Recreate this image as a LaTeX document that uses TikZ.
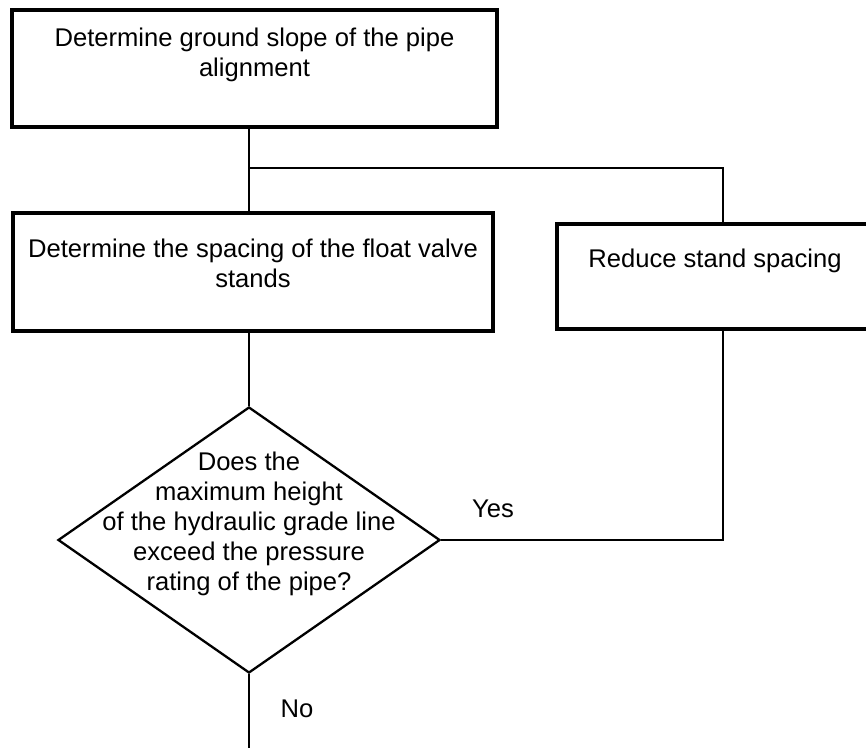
\documentclass[tikz,border=0pt]{standalone}
\usepackage{fontspec}
\setmainfont{Liberation Sans}
\usetikzlibrary{shapes.geometric}

\tikzset{
  stepbox/.style={draw, rectangle, line width=1.6pt, inner sep=0pt, align=center},
  decision/.style={draw, diamond, line width=1.15pt, inner sep=0pt,
    minimum width=191pt, minimum height=133pt},
  qtext/.style={align=center, inner sep=0pt, text height=69pt, text depth=3pt, yshift=8pt},
  link/.style={line width=0.9pt},
}

\begin{document}
\begin{tikzpicture}[x=0.5pt,y=0.5pt,font=\fontsize{12.8}{15}\selectfont]
    \useasboundingbox (0,0) rectangle (866,-748);

    % boxes
    \node[stepbox, minimum width=242.5pt, minimum height=58.5pt, text height=33.5pt, text depth=25pt]
        (ground) at (254.5,-68.5) {Determine ground slope of the pipe\\alignment};
    \node[stepbox, minimum width=240pt, minimum height=59pt, text height=37.5pt, text depth=21.5pt]
        (spacing) at (253,-272) {Determine the spacing of the float valve\\stands};
    \node[stepbox, minimum width=158pt, minimum height=52.5pt, text height=22pt, text depth=30.5pt]
        (reduce) at (715,-276.5) {Reduce stand spacing};

    % question
    \node[decision, label={[qtext]center:{Does the\\maximum height\\of the hydraulic grade line\\exceed the pressure\\rating of the pipe?}}]
        (check) at (249,-540) {};

    \node (yes) at (493,-509) {Yes};
    \node (no) at (297,-709) {No};

    \coordinate (tee) at (249,-168);
    \coordinate (loop) at (723,0);
    \coordinate (out) at (249,-752);

    % lines
    \draw[link] (ground.south -| check) -- (spacing.north -| check);
    \draw[link] (tee) -| (reduce.north -| loop);
    \draw[link] (spacing.south -| check) -- (check.north);
    \draw[link] (check.east) -| (reduce.south -| loop);
    \draw[link] (check.south) -- (out);
\end{tikzpicture}
\end{document}
